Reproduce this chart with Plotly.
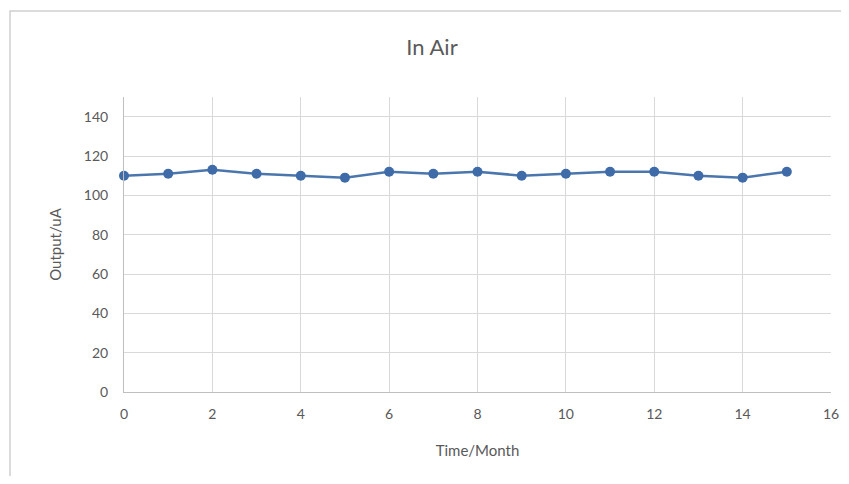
import plotly.graph_objects as go

months = list(range(16))
output_ua = [110, 111, 113, 111, 110, 109, 112, 111, 112, 110, 111, 112, 112, 110, 109, 112]
x_ticks = [0, 2, 4, 6, 8, 10, 12, 14, 16]
y_ticks = [0, 20, 40, 60, 80, 100, 120, 140]

OX, OY = 8, 8  # page offset of the figure div
W, H = 849 - 2 * OX, 484 - 2 * OY
L, R, T, B = 124 - OX, 841 - 831, 97 - OY, 476 - 392
pw, ph = W - L - R, H - T - B

def px(x):
    return (x - OX - L) / pw

def py(y):
    return 1 - (y - OY - T) / ph

fig = go.Figure()
fig.add_trace(go.Scatter(
    x=months, y=output_ua, mode="lines+markers",
    line=dict(color="#4a76ad", width=2.5),
    marker=dict(color="#3f6ca8", size=10),
    showlegend=False, cliponaxis=False,
))

font = "Lato, 'Open Sans', sans-serif"
fig.update_layout(
    width=W, height=H,
    margin=dict(l=L, r=R, t=T, b=B, autoexpand=False),
    paper_bgcolor="white", plot_bgcolor="white",
    title=dict(text="In Air", xref="container", x=(432 - OX) / W, xanchor="center",
               yref="container", y=1 - (47 - OY) / H, yanchor="middle",
               font=dict(family=font, size=22, color="#5a5a5a")),
    font=dict(family=font, size=14, color="#595959"),
    xaxis=dict(range=[0, 16], tickvals=x_ticks, showgrid=True, gridcolor="#d9d9d9", gridwidth=1,
               showline=True, linecolor="#bfbfbf", linewidth=1, zeroline=False,
               ticks="", ticklabelstandoff=9, automargin=False, ticklabeloverflow="allow",
               title=dict(text="Time/Month", font=dict(family=font, size=15, color="#595959"), standoff=24)),
    yaxis=dict(range=[0, 150], tickvals=y_ticks, showgrid=True, gridcolor="#d9d9d9", gridwidth=1,
               showline=True, linecolor="#bfbfbf", linewidth=1, zeroline=False,
               ticks="", ticklabelstandoff=12, automargin=False,
               title=dict(text="Output/uA", font=dict(family=font, size=15, color="#595959"), standoff=18)),
    shapes=[dict(type="rect", xref="paper", yref="paper",
                 x0=px(10), x1=px(870), y0=py(510), y1=py(11),
                 line=dict(color="#d0d0d0", width=1.5), layer="below")],
)

fig.write_html("out.html")
